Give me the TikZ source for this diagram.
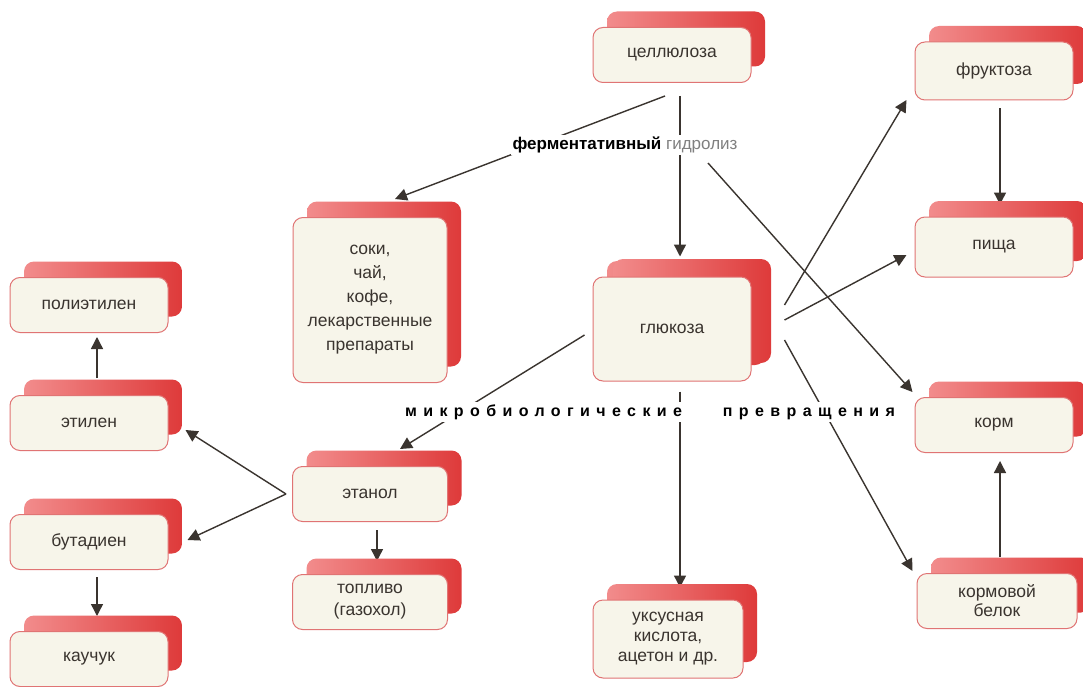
\documentclass[tikz,border=0pt]{standalone}
\usepackage{fontspec}
\setmainfont{Liberation Sans}
\usetikzlibrary{arrows.meta,shadows,backgrounds}
\definecolor{cream}{HTML}{F7F5EA}
\definecolor{boxedge}{HTML}{E07474}
\definecolor{boxlight}{HTML}{F28C8C}
\definecolor{boxdark}{HTML}{DE3A3A}
\definecolor{ink}{HTML}{3A342F}

\begin{document}
\begin{tikzpicture}[x=1pt,y=-1pt,
  box/.style={draw=boxedge, line width=1pt, fill=cream, rounded corners=10pt,
    minimum width=158pt, minimum height=55pt, align=center, inner sep=2pt,
    font=\fontsize{17.5}{22}\selectfont, text=ink,
    general shadow={shadow xshift=14pt, shadow yshift=16pt,
      left color=boxlight, right color=boxdark}},
  arr/.style={ink, line width=1.4pt, -{Triangle[length=12pt,width=12pt]}},
  tag/.style={fill=white, inner sep=2pt, font=\bfseries\fontsize{17}{20}\selectfont}]
  \useasboundingbox (0,0) rectangle (1083,687);

  \node[box] (cell) at (672,55) {целлюлоза};
  \node[box, minimum width=154pt, minimum height=165pt, font=\fontsize{17.5}{24}\selectfont] (juice) at (370,300)
    {соки,\\ чай,\\ кофе,\\ лекарственные\\ препараты};
  \node[box, minimum height=104pt, general shadow={shadow xshift=20pt, shadow yshift=18pt,
      left color=boxlight, right color=boxdark}] (gluc) at (672,329) {глюкоза};
  \node[box, minimum height=58pt] (fruc) at (994,71) {фруктоза};
  \node[box, minimum height=60pt] (food) at (994,247) {пища};
  \node[box] (feed) at (994,425) {корм};
  \node[box, minimum width=160pt, font=\fontsize{17.5}{19}\selectfont] (prot) at (997,601) {кормовой\\ белок};
  \node[box] (poly) at (89,305) {полиэтилен};
  \node[box] (ethyl) at (89,423) {этилен};
  \node[box] (buta) at (89,542) {бутадиен};
  \node[box] (rubber) at (89,659) {каучук};
  \node[box, minimum width=155pt] (ethan) at (370,494) {этанол};
  \node[box, minimum width=155pt] (fuel) at (370,602) {топливо\\ (газохол)};
  \node[box, minimum width=150pt, minimum height=78pt, font=\fontsize{17.5}{20}\selectfont] (acid) at (668,639)
    {уксусная\\ кислота,\\ ацетон и др.};

  \node[tag] (hydro) at (625,145) {ферментативный \textcolor{gray}{\mdseries гидролиз}};
  \node[tag, font=\bfseries\fontsize{16}{19}\selectfont] (micro) at (650,412)
    {\addfontfeature{LetterSpace=40}микробиологические\hspace{30pt} превращения};

  \begin{scope}[on background layer]
    \fill[white] (0,0) rectangle (1083,687);
    \draw[arr] ([xshift=-7pt,yshift=-13pt]cell.south) -- ([xshift=25pt,yshift=18pt]juice.north);
    \draw[arr] ([xshift=8pt,yshift=-13pt]cell.south) -- ([xshift=8pt,yshift=20pt]gluc.north);
    \draw[arr] ([xshift=83pt,yshift=-18pt]hydro.center) -- ([xshift=-2pt,yshift=33pt]feed.west);
    \draw[arr] ([xshift=33pt,yshift=24pt]gluc.east) -- ([xshift=-8pt,yshift=-29pt]fruc.west);
    \draw[arr] ([xshift=33pt,yshift=9pt]gluc.east) -- ([xshift=-8pt,yshift=-8pt]food.west);
    \draw[arr] ([xshift=33pt,yshift=-11pt]gluc.east) -- ([xshift=-4pt,yshift=30pt]prot.west);
    \draw[arr] ([xshift=-8pt,yshift=-6pt]gluc.west) -- ([xshift=30pt,yshift=17pt]ethan.north);
    \draw[arr] ([xshift=8pt,yshift=-10pt]gluc.south) -- ([xshift=12pt,yshift=12pt]acid.north);
    \draw[arr] ([xshift=6pt,yshift=-8pt]fruc.south) -- ([xshift=6pt,yshift=12pt]food.north);
    \draw[arr] ([xshift=3pt,yshift=16pt]prot.north) -- ([xshift=6pt,yshift=-8pt]feed.south);
    \draw[arr] ([xshift=-6pt]ethan.west) -- ([xshift=17pt,yshift=-7pt]ethyl.east);
    \draw[arr] ([xshift=-6pt]ethan.west) -- ([xshift=19pt,yshift=2pt]buta.east);
    \draw[arr] ([xshift=7pt,yshift=-8pt]ethan.south) -- ([xshift=7pt,yshift=13pt]fuel.north);
    \draw[arr] ([xshift=8pt,yshift=-7pt]buta.south) -- ([xshift=8pt,yshift=15pt]rubber.north);
    \draw[arr] ([xshift=8pt,yshift=17pt]ethyl.north) -- ([xshift=8pt,yshift=-4pt]poly.south);
  \end{scope}
\end{tikzpicture}
\end{document}
